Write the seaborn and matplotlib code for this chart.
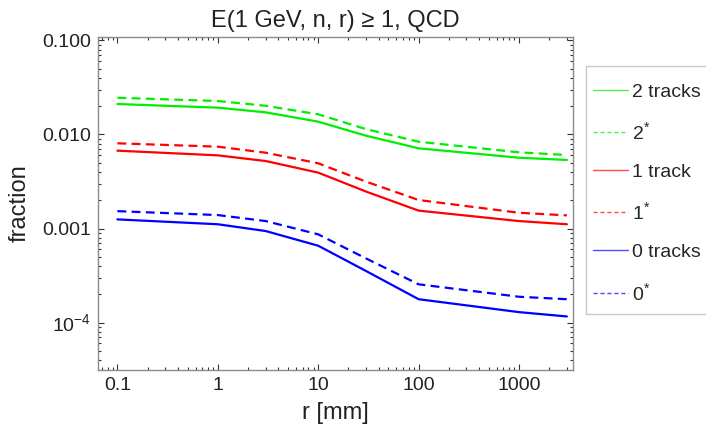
import numpy as np
import pandas as pd
import seaborn as sns
import matplotlib
matplotlib.use("Agg")
import matplotlib.pyplot as plt
from matplotlib.lines import Line2D
from matplotlib.patches import Rectangle
from matplotlib.ticker import FixedLocator, LogLocator, NullFormatter

# Radius values (mm) at which the fractions were evaluated
r_mm = [0.1, 1, 3, 10, 30, 100, 1000, 3000]

# Fraction of QCD events, by number of tracks
two_tracks = [0.0211, 0.0193, 0.0172, 0.0137, 0.0097, 0.00713, 0.00566, 0.00536]
two_star = [0.0246, 0.0227, 0.0202, 0.0164, 0.0114, 0.00838, 0.00646, 0.00605]
one_track = [0.00673, 0.0060, 0.00522, 0.00393, 0.00247, 0.00155, 0.0012, 0.00111]
one_star = [0.00806, 0.00742, 0.0064, 0.00494, 0.00315, 0.00201, 0.00147, 0.00138]
zero_tracks = [0.00125, 0.00111, 0.00094, 0.000656, 0.000353, 0.000177, 0.000129, 0.000116]
zero_star = [0.00153, 0.00139, 0.0012, 0.000867, 0.00048, 0.000255, 0.000188, 0.000177]

series_labels = ["2 tracks", "2$^{*}$", "1 track", "1$^{*}$", "0 tracks", "0$^{*}$"]
series_values = [two_tracks, two_star, one_track, one_star, zero_tracks, zero_star]
series_colors = ["#00ee00", "#00ee00", "#ff0000", "#ff0000", "#0000ff", "#0000ff"]
series_dashed = [False, True, False, True, False, True]

x_ticks = [0.1, 1, 10, 100, 1000]
x_ticklabels = ["0.1", "1", "10", "100", "1000"]
y_ticks = [1e-4, 1e-3, 1e-2, 1e-1]
y_ticklabels = ["10$^{-4}$", "0.001", "0.010", "0.100"]

sns.set_style("ticks")
plt.rcParams["font.family"] = ["Liberation Sans", "DejaVu Sans"]
plt.rcParams["mathtext.fontset"] = "custom"
plt.rcParams["mathtext.rm"] = "Liberation Sans"
plt.rcParams["mathtext.it"] = "Liberation Sans:italic"

df = pd.concat(
    [pd.DataFrame({"r": r_mm, "fraction": v, "series": lab})
     for lab, v in zip(series_labels, series_values)],
    ignore_index=True,
)

fig = plt.figure(figsize=(7.06, 4.36), dpi=100)
W, H = 706, 436
ax = fig.add_axes([98 / W, 1 - 370 / H, (573.3 - 98) / W, (370 - 37) / H])

for lab, col, dashed in zip(series_labels, series_colors, series_dashed):
    sub = df[df["series"] == lab]
    sns.lineplot(data=sub, x="r", y="fraction", ax=ax, color=col, lw=1.6,
                 linestyle=(0, (4, 2.4)) if dashed else "-",
                 legend=False, sort=False, estimator=None)

ax.set_xscale("log")
ax.set_yscale("log")
ax.set_xlim(0.0641, 3475)
ax.set_ylim(10 ** -4.505, 10 ** -0.963)

ax.xaxis.set_major_locator(FixedLocator(x_ticks))
ax.set_xticklabels(x_ticklabels)
ax.yaxis.set_major_locator(FixedLocator(y_ticks))
ax.set_yticklabels(y_ticklabels)
ax.xaxis.set_minor_locator(LogLocator(base=10, subs=np.arange(2, 10)))
ax.yaxis.set_minor_locator(LogLocator(base=10, subs=np.arange(2, 10)))
ax.xaxis.set_minor_formatter(NullFormatter())
ax.yaxis.set_minor_formatter(NullFormatter())

ax.tick_params(which="both", direction="in", top=True, right=True,
               color="#333333", width=0.8)
ax.tick_params(which="major", length=4.5, labelsize=14, pad=5, labelcolor="#222222")
ax.tick_params(which="minor", length=2.2)
for s in ax.spines.values():
    s.set_color("#8a8a8a")
    s.set_linewidth(1.0)

ax.set_xlabel("r [mm]", fontsize=17, labelpad=6, color="#222222")
ax.set_ylabel("fraction", fontsize=17, labelpad=8, color="#222222")
ax.set_title("E(1 GeV, n, r) \u2265 1, QCD", fontsize=17, pad=7, color="#222222")

# Legend box (runs off the right edge of the figure)
fig.patches.append(Rectangle((586 / W, 1 - 314 / H), (730 - 586) / W, (314 - 66) / H,
                             transform=fig.transFigure, facecolor="white",
                             edgecolor="#c8c8c8", lw=1.0, zorder=0))

handles = [Line2D([], [], color=c, lw=1.0, alpha=0.7,
                  linestyle=(0, (3, 2)) if d else "-")
           for c, d in zip(series_colors, series_dashed)]
leg = fig.legend(handles, series_labels, loc="upper left",
                 bbox_to_anchor=(593 / W, 1 - 83 / H), fontsize=14,
                 frameon=False, handlelength=1.8,
                 handletextpad=0.2, labelspacing=1.05, borderpad=0,
                 borderaxespad=0)

fig.savefig("out.png", dpi=100)
